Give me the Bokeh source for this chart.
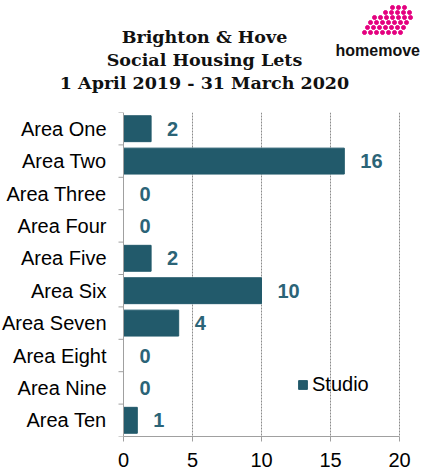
import math
from bokeh.plotting import figure
from bokeh.models import Range1d, FixedTicker, Legend, LegendItem, ColumnDataSource, Span
from bokeh.layouts import column
from bokeh.core.properties import value
from bokeh.embed import file_html
from bokeh.resources import INLINE

# ---- data ----
categories = ["Area One", "Area Two", "Area Three", "Area Four", "Area Five",
              "Area Six", "Area Seven", "Area Eight", "Area Nine", "Area Ten"]
studio = [2, 16, 0, 0, 2, 10, 4, 0, 0, 1]
x_ticks = [0, 5, 10, 15, 20]
title_lines = ["Brighton & Hove", "Social Housing Lets", "1 April 2019 - 31 March 2020"]
series_name = "Studio"

BAR = "#225A6B"
LAB = "#2B6477"
AXIS = "#A0A0A0"
PINK = "#E4007F"
W = 423
HDR_H = 108
MAIN_H = 362
PLOT_L, PLOT_R = 123, 399          # pixel edges of the value axis (0 .. 20)

# ---- header (title + logo) ----
hdr = figure(width=W, height=HDR_H, x_range=Range1d(0, W), y_range=Range1d(HDR_H, 0),
             x_axis_type=None, y_axis_type=None, toolbar_location=None,
             output_backend="svg", min_border=0, outline_line_color=None)
hdr.grid.visible = False
hdr.text(x=[204] * 3, y=[36, 59, 82], text=title_lines,
         text_font=value("DejaVu Serif"), text_font_style="bold",
         text_font_size="17.5px", text_align="center",
         text_baseline="alphabetic", text_color="#111111")

# logo dots (decorative)
rows = [(7, 392, 3), (12, 385, 5), (17, 374, 7), (22, 370, 7), (27, 367, 7), (32, 364, 7)]
dx, dy = [], []
for yy, x0, cnt in rows:
    for k in range(cnt):
        dx.append(x0 + 6 * k)
        dy.append(yy)
hdr.scatter(x=dx, y=dy, size=4, marker="circle", fill_color=PINK, line_color=PINK)
hdr.text(x=[335], y=[50], text=["homemove"], text_font=value("Liberation Sans"),
         text_font_style="bold", text_font_size="16px", text_align="left",
         text_baseline="alphabetic", text_color="#111111")

# ---- main chart ----
xmin, xmax = x_ticks[0], x_ticks[-1]
ppu = (PLOT_R - PLOT_L) / (xmax - xmin)
n = len(categories)
idx = list(range(n))
p = figure(width=W, height=MAIN_H,
           x_range=Range1d(xmin - PLOT_L / ppu, xmax + (W - PLOT_R) / ppu),
           y_range=Range1d(n - 0.5, -0.5),
           y_axis_type=None, toolbar_location=None, output_backend="svg",
           min_border_left=0, min_border_right=0, min_border_top=4,
           min_border_bottom=34, outline_line_color=None)

src = ColumnDataSource(dict(y=idx, v=studio, lab=[str(v) for v in studio],
                            cat=categories, zero=[0] * n))
r = p.hbar(y="y", right="v", left=0, height=0.8, source=src,
           fill_color=BAR, line_color=BAR)
p.text(x="v", y="y", text="lab", source=src, x_offset=16,
       text_baseline="middle", text_align="left",
       text_font=value("Liberation Sans"), text_font_style="bold",
       text_font_size="20px", text_color=LAB)

# category labels + category axis line and boundary ticks
p.text(x="zero", y="y", text="cat", source=src, x_offset=-17,
       text_baseline="middle", text_align="right",
       text_font=value("Liberation Sans"), text_font_size="20px",
       text_color="#000000")
p.add_layout(Span(location=0, dimension="height", line_color=AXIS, line_width=1))
bounds_y = [i - 0.5 for i in range(n + 1)]
p.ray(x=[0] * len(bounds_y), y=bounds_y, length=5, length_units="screen",
      angle=math.pi, line_color=AXIS, line_width=1)

# x axis
p.xaxis.bounds = (xmin, xmax)
p.xaxis.ticker = FixedTicker(ticks=x_ticks, minor_ticks=[])
p.xaxis.major_tick_out = 5
p.xaxis.major_tick_in = 0
p.xaxis.minor_tick_out = 0
p.xaxis.minor_tick_in = 0
p.xaxis.major_tick_line_color = AXIS
p.xaxis.axis_line_color = AXIS
p.xaxis.major_label_standoff = 11
p.xaxis.major_label_text_font = "Liberation Sans"
p.xaxis.major_label_text_font_size = "20px"
p.xaxis.major_label_text_color = "#000000"

p.ygrid.visible = False
p.xgrid.ticker = FixedTicker(ticks=x_ticks[1:])
p.xgrid.grid_line_color = "#8C8C8C"
p.xgrid.grid_line_dash = "2 1"

legend = Legend(items=[LegendItem(label=series_name, renderers=[r])],
                location=(PLOT_L + 174, 40), border_line_color=None,
                background_fill_alpha=0, padding=0, margin=0,
                glyph_width=11, glyph_height=11, label_standoff=4,
                label_text_font="Liberation Sans", label_text_font_size="20px",
                label_text_color="#000000")
p.add_layout(legend)

layout = column(hdr, p)
open("out.html", "w").write(file_html(layout, INLINE))
